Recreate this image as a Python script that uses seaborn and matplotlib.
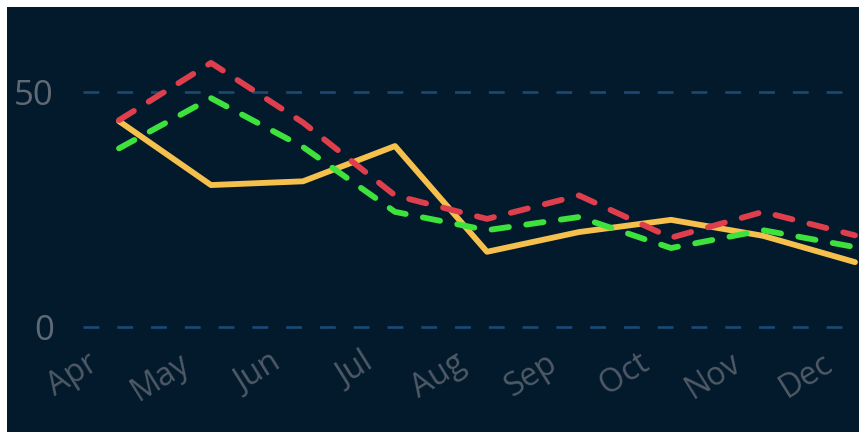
import matplotlib
matplotlib.use("Agg")
import matplotlib.pyplot as plt
import matplotlib.transforms as mtransforms
from matplotlib.patches import Rectangle
import numpy as np
import pandas as pd
import seaborn as sns

# Monthly values for the three series
months = ["Apr", "May", "Jun", "Jul", "Aug", "Sep", "Oct", "Nov", "Dec"]
actual = [43.8, 30.2, 31.0, 38.5, 16.0, 20.2, 22.8, 19.4, 13.8]
upper = [44.0, 56.2, 43.5, 28.0, 23.0, 28.0, 19.0, 24.5, 19.5]
lower = [38.0, 48.7, 38.3, 24.5, 20.6, 23.4, 16.8, 20.6, 17.0]
y_ticks = [0, 50]

series_names = ["Actual", "Upper", "Lower"]
series_values = [actual, upper, lower]

df = pd.concat(
    [
        pd.DataFrame({"idx": np.arange(len(months)), "month": months,
                      "value": vals, "series": name})
        for name, vals in zip(series_names, series_values)
    ],
    ignore_index=True,
)

BG = "#031a2d"
palette = {"Actual": "#f6c04c", "Upper": "#df3f4d", "Lower": "#3de23d"}
dashes = {"Actual": "", "Upper": (3, 3.0), "Lower": (3, 3.0)}

sns.set_theme(style="dark")
plt.rcParams["font.family"] = ["Open Sans", "DejaVu Sans"]

W, H = 859, 432
fig = plt.figure(figsize=(W / 100, H / 100), dpi=100)
fig.patch.set_facecolor(BG)

ax_left, ax_right, ax_top, ax_bottom = 83, 859, 7, 335
ax = fig.add_axes([ax_left / W, (H - ax_bottom) / H,
                   (ax_right - ax_left) / W, (ax_bottom - ax_top) / H])
ax.set_facecolor(BG)

# dashed horizontal grid
for yv in y_ticks:
    ax.axhline(yv, color="#1b4a73", lw=1.9, ls=(0, (6, 6.8)), zorder=1)

sns.lineplot(
    data=df, x="idx", y="value", hue="series", style="series",
    palette=palette, dashes=dashes, hue_order=series_names,
    style_order=series_names, sort=False, linewidth=4.2,
    legend=False, ax=ax, zorder=3,
)
for line in ax.get_lines()[len(y_ticks):]:
    line.set_dash_capstyle("round")
    line.set_solid_capstyle("round")
    line.set_solid_joinstyle("round")
    line.set_dash_joinstyle("round")

# pixel-calibrated limits
px_per_idx = 92.0
x0_px = 119
ax.set_xlim((ax_left - x0_px) / px_per_idx, (ax_right - x0_px) / px_per_idx)
px_per_unit = 4.7
zero_px = 327
ax.set_ylim((zero_px - ax_bottom) / px_per_unit, (zero_px - ax_top) / px_per_unit)

for s in ax.spines.values():
    s.set_visible(False)
ax.grid(False)
ax.set_xlabel("")
ax.set_ylabel("")

ax.set_yticks(y_ticks)
ax.set_yticklabels([str(v) for v in y_ticks], fontsize=25, color="#5f6a75")
ax.tick_params(axis="y", length=0, pad=21)

ax.set_xticks(np.arange(len(months)))
ax.set_xticklabels(months, fontsize=23, color="#4f5a66", rotation=32,
                   ha="right", va="top", rotation_mode="anchor")
ax.tick_params(axis="x", length=0, pad=2)
offset = mtransforms.ScaledTranslation(-33 / 100, -9 / 100, fig.dpi_scale_trans)
for lab in ax.get_xticklabels():
    lab.set_transform(lab.get_transform() + offset)

# white frame strips on the left and top edges
fig.add_artist(Rectangle((0, 0), 7 / W, 1, transform=fig.transFigure,
                         facecolor="white", edgecolor="none", zorder=10))
fig.add_artist(Rectangle((0, 1 - 7 / H), 1, 7 / H, transform=fig.transFigure,
                         facecolor="white", edgecolor="none", zorder=10))

fig.savefig("out.png", dpi=100, facecolor=BG)
